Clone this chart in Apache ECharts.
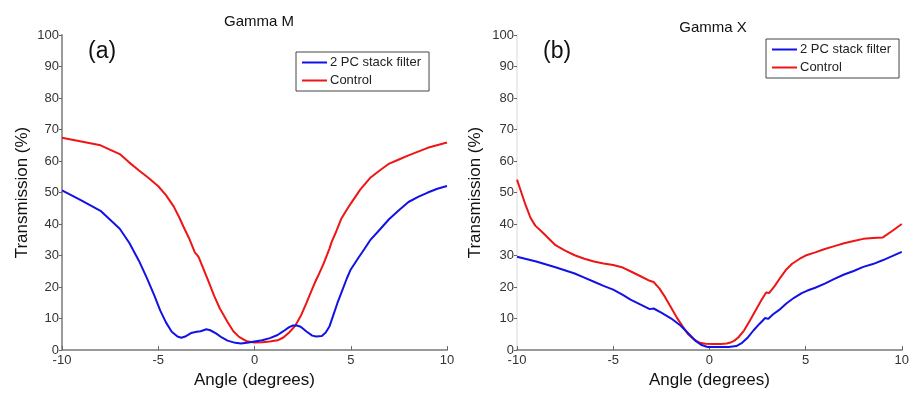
<!DOCTYPE html>
<html>
<head>
<meta charset="utf-8">
<script src="https://cdn.jsdelivr.net/npm/echarts@6/dist/echarts.min.js"></script>
<style>html,body{margin:0;padding:0;background:#fff;}#c{width:912px;height:394px;}</style>
</head>
<body>
<div id="c"></div>
<script>
var seriesNames = ['2 PC stack filter', 'Control'];
var panelTitles = ['Gamma M', 'Gamma X'];
var panelLabels = ['(a)', '(b)'];
var xTicks = [-10, -5, 0, 5, 10];
var yTicks = [0, 10, 20, 30, 40, 50, 60, 70, 80, 90, 100];

// Gamma M - Control
var gmControlAngle = [-10,-9,-8,-7,-6.5,-6,-5.5,-5,-4.6,-4.2,-3.9,-3.7,-3.4,-3.1,-3.0,-2.9,-2.7,-2.4,-2.1,-1.8,-1.4,-1.1,-0.8,-0.4,0,0.4,0.8,1.2,1.5,1.8,2.1,2.4,2.7,3.0,3.15,3.3,3.6,3.9,4.0,4.2,4.5,4.8,5.0,5.5,6.0,6.5,7.0,7.5,8.0,9.0,10];
var gmControl = [67.4,66.2,65.0,62.2,59.5,57.0,54.6,52.0,49.2,45.6,42.0,39.3,35.5,31.0,30.3,29.5,26.5,22.0,17.3,13.2,8.9,6.0,4.2,2.8,2.4,2.5,2.7,3.1,4.0,5.6,7.6,10.8,15.0,19.4,21.6,23.5,27.6,32.3,34.2,37.0,41.6,44.6,46.5,51.0,54.6,57.0,59.2,60.5,61.8,64.2,65.9];
// Gamma M - 2 PC stack filter
var gmFilterAngle = [-10,-9,-8,-7,-6.5,-6,-5.6,-5.2,-4.9,-4.6,-4.3,-4.0,-3.8,-3.6,-3.3,-3.0,-2.8,-2.5,-2.3,-2.0,-1.7,-1.4,-1.0,-0.7,-0.3,0,0.4,0.8,1.2,1.5,1.8,2.0,2.2,2.4,2.7,3.0,3.2,3.5,3.7,3.9,4.1,4.3,4.5,4.8,5.0,5.4,5.7,6.0,6.5,7.0,7.5,8.0,8.5,9.0,9.5,10];
var gmFilter = [50.7,47.5,44.2,38.5,34.0,28.3,23.0,17.3,12.6,8.8,5.8,4.3,3.9,4.3,5.4,5.8,6.0,6.6,6.3,5.3,4.0,3.0,2.3,2.1,2.4,2.7,3.1,3.8,4.8,6.0,7.3,7.8,7.8,7.4,5.9,4.6,4.3,4.5,5.6,7.6,11.2,14.8,18.0,22.8,25.6,29.3,32.0,34.8,38.2,41.6,44.4,47.0,48.6,50.0,51.2,52.1];
// Gamma X - Control
var gxControlAngle = [-10,-9.8,-9.57,-9.3,-9.05,-8.6,-8.0,-7.5,-7.0,-6.5,-6.0,-5.5,-5.0,-4.5,-4.0,-3.5,-3.1,-2.9,-2.6,-2.3,-2.0,-1.7,-1.4,-1.1,-0.8,-0.5,-0.2,0.2,0.6,0.9,1.1,1.3,1.5,1.8,2.1,2.4,2.7,2.95,3.1,3.4,3.7,4.0,4.3,4.7,5.0,5.5,6.0,6.5,7.0,7.5,8.0,8.5,9.0,9.5,10];
var gxControl = [54.1,50.5,46.3,42.0,39.5,36.9,33.3,31.6,30.1,29.0,28.1,27.5,27.0,26.2,24.7,23.2,22.0,21.6,19.6,16.8,13.6,10.4,7.6,5.0,3.4,2.3,2.0,1.9,1.9,2.1,2.4,3.0,4.0,6.2,9.3,12.6,15.8,18.3,18.1,20.4,23.1,25.6,27.4,29.0,30.0,31.0,32.1,33.0,33.9,34.6,35.3,35.6,35.7,37.8,40.0];
// Gamma X - 2 PC stack filter
var gxFilterAngle = [-10,-9,-8,-7,-6.5,-6,-5.5,-5.0,-4.5,-4.1,-3.6,-3.1,-2.9,-2.5,-2.0,-1.5,-1.0,-0.7,-0.4,-0.1,0.5,1.0,1.4,1.7,2.0,2.3,2.6,2.9,3.05,3.3,3.7,4.0,4.4,4.8,5.1,5.5,6.0,6.5,7.0,7.5,8.0,8.5,9.0,9.5,10];
var gxFilter = [29.6,28.1,26.3,24.3,23.0,21.7,20.4,19.2,17.5,16.0,14.5,13.0,13.2,11.9,10.1,7.8,4.7,2.8,1.6,1.0,1.0,1.0,1.3,2.3,4.0,6.3,8.3,10.2,9.9,11.3,13.1,14.8,16.6,18.1,18.9,19.8,21.1,22.6,24.0,25.1,26.4,27.3,28.5,29.8,31.2];

function pairs(xs, ys) { return xs.map(function (x, i) { return [x, ys[i]]; }); }

var FONT = "'Liberation Sans', Arial, sans-serif";
var BLUE = '#1212e6';
var RED = '#ee1515';

var grids = [
  { left: 62, right: 465, top: 35, bottom: 39 },
  { left: 517, right: 10, top: 35, bottom: 39 }
];
var yLineColors = ['#9a9a9a', '#ececec'];

function xAxisFor(i) {
  return {
    type: 'value', gridIndex: i, min: xTicks[0], max: xTicks[xTicks.length - 1], interval: 5,
    name: 'Angle (degrees)', nameLocation: 'middle', nameGap: 17,
    nameTextStyle: { fontFamily: FONT, fontSize: 17, color: '#111' },
    axisLine: { show: true, onZero: false, lineStyle: { color: '#999', width: 2 } },
    axisTick: { show: true, inside: true, length: 4, lineStyle: { color: '#666' } },
    axisLabel: { fontFamily: FONT, fontSize: 13, color: '#333', margin: 4 },
    splitLine: { show: false }
  };
}
function yAxisFor(i) {
  return {
    type: 'value', gridIndex: i, min: yTicks[0], max: yTicks[yTicks.length - 1], interval: 10,
    name: 'Transmission (%)', nameLocation: 'middle', nameGap: i === 0 ? 31 : 33,
    nameTextStyle: { fontFamily: FONT, fontSize: 17, color: '#111' },
    axisLine: { show: true, onZero: false, lineStyle: { color: yLineColors[i], width: 2 } },
    axisTick: { show: true, inside: false, length: 3, lineStyle: { color: '#666' } },
    axisLabel: { fontFamily: FONT, fontSize: 13, color: '#333', margin: 3 },
    splitLine: { show: false }
  };
}
function lineSeries(name, idx, data, color) {
  return {
    name: name, type: 'line', xAxisIndex: idx, yAxisIndex: idx, data: data,
    symbol: 'none', smooth: false, animation: false,
    lineStyle: { color: color, width: 2 }, itemStyle: { color: color }, z: name === 'Control' ? 3 : 4
  };
}
function legendFor(left, top) {
  return {
    left: left, top: top, orient: 'vertical', data: seriesNames,
    icon: 'rect', itemWidth: 25, itemHeight: 2, itemGap: 5,
    borderColor: '#444', borderWidth: 1, backgroundColor: '#fff',
    padding: [4, 8, 4, 6], selectedMode: false,
    textStyle: { fontFamily: FONT, fontSize: 13, color: '#222', padding: [0, 0, 0, -2] }
  };
}

var chart = echarts.init(document.getElementById('c'), null, { renderer: 'canvas' });
chart.setOption({
  animation: false,
  backgroundColor: '#fff',
  title: [
    { text: panelTitles[0], left: 254, top: 9, textAlign: 'center', textStyle: { fontFamily: FONT, fontSize: 15, fontWeight: 'normal', color: '#111' } },
    { text: panelTitles[1], left: 708, top: 15, textAlign: 'center', textStyle: { fontFamily: FONT, fontSize: 15, fontWeight: 'normal', color: '#111' } },
    { text: panelLabels[0], left: 83, top: 35, textStyle: { fontFamily: FONT, fontSize: 23, fontWeight: 'normal', color: '#111' } },
    { text: panelLabels[1], left: 538, top: 35, textStyle: { fontFamily: FONT, fontSize: 23, fontWeight: 'normal', color: '#111' } }
  ],
  legend: [legendFor(296, 52), legendFor(766, 39)],
  grid: grids,
  xAxis: [xAxisFor(0), xAxisFor(1)],
  yAxis: [yAxisFor(0), yAxisFor(1)],
  series: [
    lineSeries(seriesNames[0], 0, pairs(gmFilterAngle, gmFilter), BLUE),
    lineSeries(seriesNames[1], 0, pairs(gmControlAngle, gmControl), RED),
    lineSeries(seriesNames[0], 1, pairs(gxFilterAngle, gxFilter), BLUE),
    lineSeries(seriesNames[1], 1, pairs(gxControlAngle, gxControl), RED)
  ]
});
</script>
</body>
</html>
